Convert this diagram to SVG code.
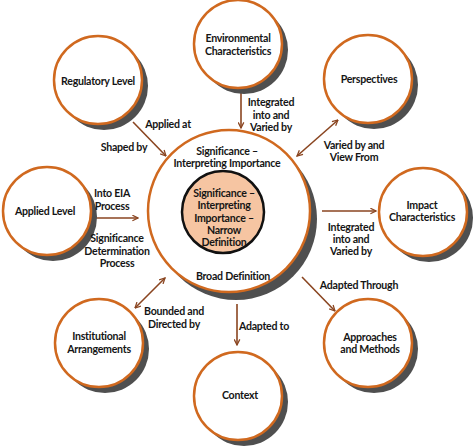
<svg xmlns="http://www.w3.org/2000/svg" width="474" height="446" viewBox="0 0 474 446">
<defs>
<style>
.sh{fill:#4f4f4f}
.nd{fill:#ffffff;stroke:#d0691f;stroke-width:2.5}
.t{font-family:Lato,"Liberation Sans",sans-serif;font-weight:bold;font-size:10.6px;letter-spacing:-0.25px;fill:#151515;text-anchor:middle}
.c{stroke:#8a4520;stroke-width:1.6;fill:none}
</style>
<marker id="ah" viewBox="0 0 10 10" refX="9" refY="5" markerWidth="7" markerHeight="7" orient="auto-start-reverse" markerUnits="userSpaceOnUse">
<path d="M1,1 L9,5 L1,9" fill="none" stroke="#8a4520" stroke-width="1.8"/>
</marker>
</defs>
<rect width="474" height="446" fill="#ffffff"/>

<g id="connectors">
<line class="c" x1="133" y1="122" x2="166" y2="156" marker-end="url(#ah)"/>
<line class="c" x1="241" y1="93" x2="241" y2="128" marker-end="url(#ah)"/>
<line class="c" x1="338" y1="120" x2="297" y2="156" marker-start="url(#ah)" marker-end="url(#ah)"/>
<line class="c" x1="322" y1="211" x2="376" y2="211" marker-end="url(#ah)"/>
<line class="c" x1="94" y1="218" x2="138" y2="218" marker-end="url(#ah)"/>
<line class="c" x1="165" y1="278" x2="135" y2="308" marker-start="url(#ah)" marker-end="url(#ah)"/>
<line class="c" x1="237" y1="304" x2="237" y2="345" marker-end="url(#ah)"/>
<line class="c" x1="302" y1="277" x2="335" y2="311" marker-end="url(#ah)"/>
</g>

<g id="center">
<circle class="sh" cx="236" cy="219" r="81"/>
<circle class="nd" cx="229" cy="211" r="81"/>
<circle cx="223" cy="212" r="41" fill="#f6c5a2" stroke="#111" stroke-width="2.5"/>
<text class="t" x="227" y="155">Significance –</text>
<text class="t" x="227" y="167">Interpreting Importance</text>
<text class="t" x="224" y="197">Significance –</text>
<text class="t" x="224" y="209">Interpreting</text>
<text class="t" x="224" y="222">Importance –</text>
<text class="t" x="224" y="234">Narrow</text>
<text class="t" x="224" y="246">Definition</text>
<text class="t" x="233" y="280">Broad Definition</text>
</g>

<g id="env">
<circle class="sh" cx="244" cy="50" r="44"/>
<circle class="nd" cx="238" cy="44" r="44"/>
<text class="t" x="238" y="42">Environmental</text>
<text class="t" x="238" y="55">Characteristics</text>
</g>

<g id="perspectives">
<circle class="sh" cx="374" cy="85" r="44"/>
<circle class="nd" cx="368" cy="79" r="44"/>
<text class="t" x="369" y="83">Perspectives</text>
</g>

<g id="regulatory">
<circle class="sh" cx="104" cy="86" r="44"/>
<circle class="nd" cx="98" cy="80" r="44"/>
<text class="t" x="98" y="85">Regulatory Level</text>
</g>

<g id="applied">
<circle class="sh" cx="53" cy="217" r="44"/>
<circle class="nd" cx="47" cy="211" r="44"/>
<text class="t" x="45" y="215">Applied Level</text>
</g>

<g id="impact">
<circle class="sh" cx="429" cy="218" r="44"/>
<circle class="nd" cx="423" cy="212" r="44"/>
<text class="t" x="422" y="209">Impact</text>
<text class="t" x="422" y="221">Characteristics</text>
</g>

<g id="institutional">
<circle class="sh" cx="105" cy="349" r="44"/>
<circle class="nd" cx="99" cy="343" r="44"/>
<text class="t" x="99" y="340">Institutional</text>
<text class="t" x="99" y="353">Arrangements</text>
</g>

<g id="approaches">
<circle class="sh" cx="374" cy="349" r="44"/>
<circle class="nd" cx="368" cy="343" r="44"/>
<text class="t" x="370" y="341">Approaches</text>
<text class="t" x="370" y="353">and Methods</text>
</g>

<g id="context">
<circle class="sh" cx="244" cy="402" r="44"/>
<circle class="nd" cx="238" cy="396" r="44"/>
<text class="t" x="240" y="399">Context</text>
</g>

<g id="labels">
<text class="t" x="168" y="128">Applied at</text>
<text class="t" x="124" y="151">Shaped by</text>
<text class="t" x="112" y="197">Into EIA</text>
<text class="t" x="112" y="210">Process</text>
<text class="t" x="117" y="242">Significance</text>
<text class="t" x="117" y="255">Determination</text>
<text class="t" x="117" y="267">Process</text>
<text class="t" x="271" y="106">Integrated</text>
<text class="t" x="271" y="119">into and</text>
<text class="t" x="271" y="131">Varied by</text>
<text class="t" x="354" y="149">Varied by and</text>
<text class="t" x="354" y="161">View From</text>
<text class="t" x="351" y="231">Integrated</text>
<text class="t" x="351" y="243">into and</text>
<text class="t" x="351" y="255">Varied by</text>
<text class="t" x="359" y="289">Adapted Through</text>
<text class="t" x="264" y="330">Adapted to</text>
<text class="t" x="174" y="315">Bounded and</text>
<text class="t" x="174" y="328">Directed by</text>
</g>
</svg>
